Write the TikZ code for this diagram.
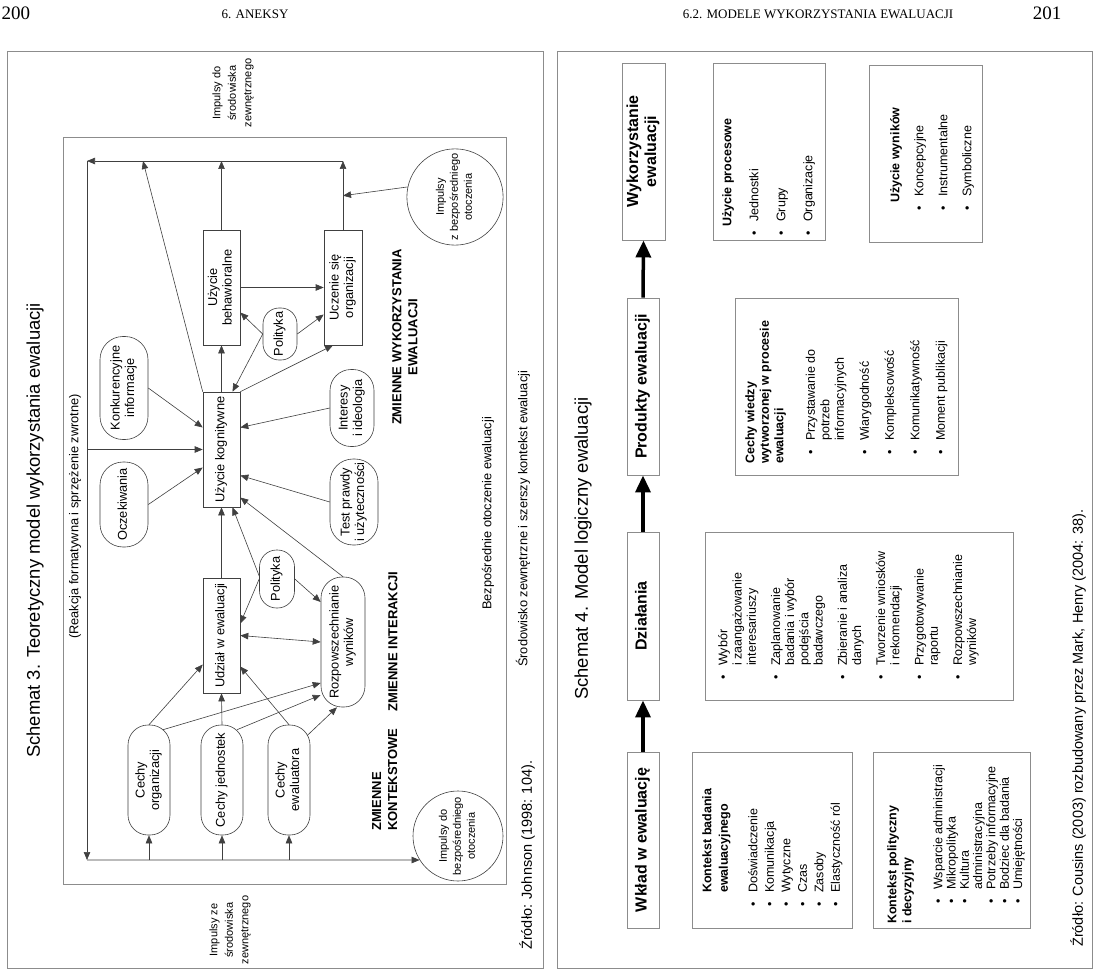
\documentclass[tikz,border=0pt]{standalone}
\usepackage{fontspec}
\setmainfont{Liberation Sans}
\newfontfamily\pagefont{Liberation Serif}
\usepackage{xcolor}
\usepackage{tikz}
\usetikzlibrary{arrows.meta}
\definecolor{grayx}{HTML}{8C8C8C}
\definecolor{darkx}{HTML}{404040}
\newcommand{\fsz}[2]{\fontsize{#1}{#2}\selectfont}
\newcommand{\vtxt}[1]{\rotatebox{90}{\begin{tabular}{@{}c@{}}#1\end{tabular}}}
\newcommand{\bulx}{\makebox[14pt][l]{\textbullet}}
\tikzset{
  fr/.style={draw=grayx,line width=0.9pt},
  bx/.style={draw=darkx,line width=0.6pt,fill=white,inner sep=0pt,font=\fsz{12.8}{14.5}},
  pl/.style={bx,rounded corners=#1},
  cr/.style={circle,draw=darkx,line width=0.6pt,fill=white,inner sep=0pt,minimum size=#1,font=\fsz{11}{14}},
  tx/.style={rotate=90,align=center,inner sep=0pt,font=\fsz{12.8}{14.5}},
  bt/.style={tx,font=\fsz{13}{16}\bfseries},
  ar/.style={-{Triangle[length=8pt,width=6.5pt]},darkx,line width=0.6pt},
  ard/.style={{Triangle[length=8pt,width=6.5pt]}-{Triangle[length=8pt,width=6.5pt]},darkx,line width=0.6pt},
  fb/.style={draw=grayx,line width=0.9pt,fill=white,inner sep=0pt,font=\fsz{16}{18}\bfseries},
  arx/.style={-{Triangle[length=17pt,width=15pt]},line width=3.5pt,black},
  ib/.style={draw=grayx,line width=0.9pt},
  it/.style={rotate=90,anchor=north west,align=left,inner sep=0pt}
}
\begin{document}
\begin{tikzpicture}[x=1pt,y=-1pt]
\useasboundingbox[fill=white] (0,0) rectangle (1100,976);
\node[font={\pagefont\fsz{19}{22}}] (pg1) at (16,13) {200};
\node[font={\pagefont\fsz{13}{15}}] (hd1) at (255,14) {6. ANEKSY};
\node[font={\pagefont\fsz{13}{15}}] (hd2) at (818,14) {6.2. MODELE WYKORZYSTANIA EWALUACJI};
\node[font={\pagefont\fsz{19}{22}}] (pg2) at (1047,13) {201};
\draw[fr] (7,51) rectangle (543,968);
\draw[fr] (63,137) rectangle (506,884);
\draw[fr] (557,51) rectangle (1092,968);
\node[tx,font=\fsz{18.4}{22},anchor=west] (t3) at (35,758) {Schemat 3. Teoretyczny model wykorzystania ewaluacji};
\node[tx,font=\fsz{11}{15.5}] (ioz) at (233,93) {Impulsy do\\środowiska\\zewnętrznego};
\node[tx,font=\fsz{11}{15.5}] (ize) at (230,930) {Impulsy ze\\środowiska\\zewnętrznego};
\node[tx,anchor=west] (reak) at (75,639) {(Reakcja formatywna i sprzężenie zwrotne)};
\node[bx,minimum width=37pt,minimum height=115pt] (kog) at (221.5,449.5) {\vtxt{Użycie kognitywne}};
\node[bx,minimum width=37pt,minimum height=115pt] (beh) at (221.5,287.5) {\vtxt{Użycie\\behawioralne}};
\node[bx,minimum width=38pt,minimum height=115pt] (ucz) at (343,287.5) {\vtxt{Uczenie się\\organizacji}};
\node[bx,minimum width=37pt,minimum height=115pt] (udz) at (221.5,635.5) {\vtxt{Udział w ewaluacji}};
\node[pl=16pt,minimum width=34pt,minimum height=52pt] (pol1) at (280,334) {\vtxt{Polityka}};
\node[pl=17pt,minimum width=35pt,minimum height=58pt] (pol2) at (277,579) {\vtxt{Polityka}};
\node[pl=23pt,minimum width=48pt,minimum height=103pt] (konk) at (124,388) {\vtxt{Konkurencyjne\\informacje}};
\node[pl=23pt,minimum width=48pt,minimum height=85pt] (ocz) at (124,504.5) {\vtxt{Oczekiwania}};
\node[pl=21pt,minimum width=44pt,minimum height=77pt] (int) at (352,408) {\vtxt{Interesy\\i ideologia}};
\node[pl=23pt,minimum width=48pt,minimum height=86pt] (tst) at (354,502) {\vtxt{Test prawdy\\i użyteczności}};
\node[pl=21pt,minimum width=44pt,minimum height=130pt] (roz) at (343,642) {\vtxt{Rozpowszechnianie\\wyników}};
\node[pl=20pt,minimum width=42pt,minimum height=110pt] (corg) at (149,780) {\vtxt{Cechy\\organizacji}};
\node[pl=20pt,minimum width=42pt,minimum height=110pt] (cjed) at (222,780) {\vtxt{Cechy jednostek}};
\node[pl=20pt,minimum width=42pt,minimum height=110pt] (cew) at (289,780) {\vtxt{Cechy\\ewaluatora}};
\node[cr=94pt] (imp1) at (455,197) {\vtxt{Impulsy\\z bezpośredniego\\otoczenia}};
\node[cr=90pt] (imp2) at (458,836) {\vtxt{Impulsy do\\bezpośredniego\\otoczenia}};
\node[bt] (zw) at (405,337) {ZMIENNE WYKORZYSTANIA\\EWALUACJI};
\node[bt,align=left,anchor=north west] (zk) at (372,831) {ZMIENNE\\KONTEKSTOWE};
\node[bt] (zi) at (393,641.5) {ZMIENNE INTERAKCJI};
\node[tx,anchor=west] (bez) at (488,610) {Bezpośrednie otoczenie ewaluacji};
\node[tx,anchor=west] (sro) at (523,667) {Środowisko zewnętrzne i szerszy kontekst ewaluacji};
\node[tx,font=\fsz{14.5}{17},anchor=west] (zr1) at (527,950) {Źródło: Johnson (1998: 104).};
\coordinate (tl) at (87,161);
\coordinate (bl) at (87,860);
\coordinate (kt) at (143,161);
\draw[ar] (ucz.north) -- (ucz.north |- tl);
\draw[ar] (beh.north) -- (beh.north |- tl);
\draw[ar] (kog.north west) -- (kt);
\draw[ar] (ucz.north |- tl) -- (tl);
\draw[ar] (tl) -- (bl);
\draw[ar] (bl) -- (imp2.212);
\draw[ar] (tl |- kog.west) -- (kog.west);
\foreach \n in {corg,cjed,cew} \draw[ar] (bl -| \n.south) -- (\n.south);
\draw[ar] (imp1.168) -- ([yshift=34pt]ucz.north);
\draw[ar] (konk.east) -- ([yshift=22pt]kog.west);
\draw[ar] (ocz.east) -- ([yshift=-18pt]kog.west);
\draw[ar] (int.west) -- ([yshift=22pt]kog.east);
\draw[ar] (tst.west) -- ([yshift=-26pt]kog.east);
\draw[ar] (roz.north) -- ([yshift=-48pt]kog.east);
\draw[ar] ([yshift=3pt]pol2.west) -- ([xshift=11pt]kog.south);
\draw[ar] (pol2.west) -- ([yshift=12pt]udz.east);
\draw[ar] (pol2.east) -- ([yshift=40pt]roz.west);
\draw[ar] (udz.north) -- (kog.south);
\draw[ar] (kog.north) -- (beh.south);
\draw[ar] (beh.east) -- (ucz.west);
\draw[ar] (kog.north east) -- ([xshift=-10pt]ucz.south);
\draw[ar] (pol1.west) -- ([yshift=-25pt]beh.east);
\draw[ar] (pol1.west) -- ([xshift=11pt]kog.north);
\draw[ar] (pol1.east) -- ([yshift=-27pt]ucz.west);
\draw[ard] (udz.east) -- (roz.west);
\draw[ar] (corg.north) -- ([yshift=-29pt]udz.west);
\draw[ar] ([xshift=14pt,yshift=-5pt]corg.north) -- ([yshift=-41pt]roz.west);
\draw[ar] (cjed.north) -- (udz.south);
\draw[ar] ([xshift=15pt,yshift=-5pt]cjed.north) -- ([yshift=-53pt]roz.west);
\draw[ar] (cew.north) -- ([yshift=-31pt]udz.east);
\draw[ar] ([xshift=18pt,yshift=-11pt]cew.north) -- ([xshift=-6pt]roz.south);
\node[tx,font=\fsz{18.4}{22},anchor=west] (t4) at (583,700) {Schemat 4. Model logiczny ewaluacji};
\node[fb,minimum width=32pt,minimum height=176pt] (wk) at (643,840) {\vtxt{Wkład w ewaluację}};
\node[fb,minimum width=32pt,minimum height=168pt] (dz) at (643,616) {\vtxt{Działania}};
\node[fb,minimum width=32pt,minimum height=177pt] (pr) at (643,386.5) {\vtxt{Produkty ewaluacji}};
\node[fb,minimum width=43pt,minimum height=177pt] (wy) at (643.5,151.5) {\vtxt{Wykorzystanie\\ewaluacji}};
\draw[arx] (wk.north) -- (dz.south);
\draw[arx] (dz.north) -- (pr.south);
\draw[arx] (pr.north) -- (wy.south);
\draw[ib] (692,752) rectangle (852,928);
\draw[ib] (873,752) rectangle (1030,928);
\draw[ib] (705,532) rectangle (1013,700);
\draw[ib] (735,298) rectangle (958,475);
\draw[ib] (713,63) rectangle (825,240);
\draw[ib] (869,65) rectangle (982,242);
\node[it,font=\fsz{12.5}{16.5}] (kbt) at (702,907) {\hspace*{14pt}\textbf{Kontekst badania}\\\hspace*{14pt}\textbf{ewaluacyjnego}\\[13pt]
  \bulx Doświadczenie\\\bulx Komunikacja\\\bulx Wytyczne\\\bulx Czas\\\bulx Zasoby\\\bulx Elastyczność ról};
\node[it,font=\fsz{12.5}{13.3}] (kpt) at (887,924) {\textbf{Kontekst polityczny}\\[1.7pt]\textbf{i decyzyjny}\\[17.7pt]
  \hspace*{20pt}\bulx Wsparcie administracji\\\hspace*{20pt}\bulx Mikropolityka\\\hspace*{20pt}\bulx Kultura\\
  \hspace*{34pt}administracyjna\\\hspace*{20pt}\bulx Potrzeby informacyjne\\\hspace*{20pt}\bulx Bodziec dla badania\\
  \hspace*{20pt}\bulx Umiejętności};
\node[it,font=\fsz{12.5}{14.2}] (dzt) at (718,680) {\bulx Wybór\\\hspace*{14pt}i zaangażowanie\\\hspace*{14pt}interesariuszy\\[10pt]
  \bulx Zaplanowanie\\\hspace*{14pt}badania i wybór\\\hspace*{14pt}podejścia\\\hspace*{14pt}badawczego\\[10pt]
  \bulx Zbieranie i analiza\\\hspace*{14pt}danych\\[10pt]\bulx Tworzenie wniosków\\\hspace*{14pt}i rekomendacji\\[10pt]
  \bulx Przygotowywanie\\\hspace*{14pt}raportu\\[10pt]\bulx Rozpowszechnianie\\\hspace*{14pt}wyników};
\node[it,font=\fsz{12.5}{14.5}] (cwt) at (745,464) {\textbf{Cechy wiedzy}\\\textbf{wytworzonej w procesie}\\\textbf{ewaluacji}\\[17pt]
  \hspace*{9pt}\bulx Przystawanie do\\\hspace*{23pt}potrzeb\\\hspace*{23pt}informacyjnych\\[10.5pt]
  \hspace*{9pt}\bulx Wiarygodność\\[10.5pt]\hspace*{9pt}\bulx Kompleksowość\\[11pt]
  \hspace*{9pt}\bulx Komunikatywność\\[11pt]\hspace*{9pt}\bulx Moment publikacji};
\node[it,font=\fsz{12.5}{27}] (upt) at (722,236) {\hspace*{9pt}\textbf{Użycie procesowe}\\\bulx Jednostki\\\bulx Grupy\\\bulx Organizacje};
\node[it,font=\fsz{12.5}{24}] (uwt) at (890,211) {\hspace*{8pt}\textbf{Użycie wyników}\\\bulx Koncepcyjne\\\bulx Instrumentalne\\\bulx Symboliczne};
\node[tx,font=\fsz{14.5}{17},anchor=west] (zr2) at (1078,947) {Źródło: Cousins (2003) rozbudowany przez Mark, Henry (2004: 38).};
\end{tikzpicture}
\end{document}
